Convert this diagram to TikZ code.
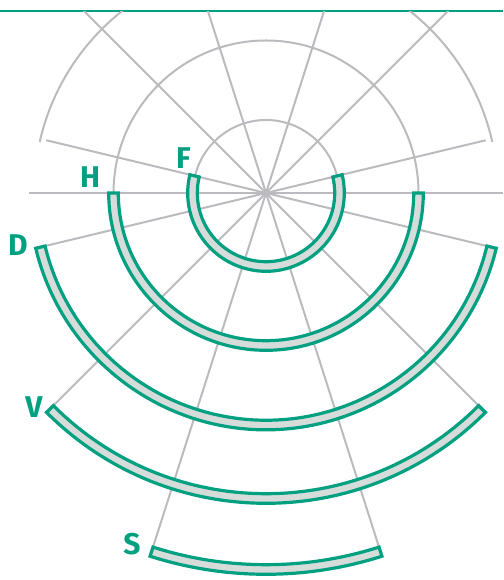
\documentclass[tikz,border=0pt]{standalone}
\usepackage{fontspec}
\setmainfont{Fira Sans}
\definecolor{grn}{RGB}{0,160,128}
\definecolor{lgray}{RGB}{187,187,191}
\definecolor{bandfill}{RGB}{213,220,218}
\begin{document}
\begin{tikzpicture}[x=1pt,y=1pt,
  ray/.style={draw=lgray, line width=2pt},
  garc/.style={draw=lgray, line width=2pt},
  band/.style={draw=grn, fill=bandfill, line width=3.2pt, line join=miter},
  lab/.style={text=grn, font=\fontsize{30}{30}\selectfont\bfseries, inner sep=0pt}]
\useasboundingbox (0,0) rectangle (503,580);
\coordinate (L0) at (0,569);
\coordinate (L1) at (503,569);
\draw[grn, line width=2pt] (L0) -- (L1);
\begin{scope}
\clip (0,0) rectangle (503,568);
\begin{scope}[shift={(266,387)}]
  \coordinate (C) at (0,0);
  % rays
  \draw[ray] (C) -- (0:237);
  \draw[ray] (C) -- (180:237);
  \draw[ray] (C) -- (13.5:226);
  \draw[ray] (C) -- (166.5:226);
  \draw[ray] (C) -- (193.5:226);
  \draw[ray] (C) -- (346.5:226);
  \draw[ray] (C) -- (45:270);
  \draw[ray] (C) -- (135:270);
  \draw[ray] (C) -- (225:300);
  \draw[ray] (C) -- (315:300);
  \draw[ray] (C) -- (72.3:210);
  \draw[ray] (C) -- (107.7:210);
  \draw[ray] (C) -- (252.3:371);
  \draw[ray] (C) -- (287.7:371);
  % grey arcs
  \draw[garc] (13.5:73) arc[start angle=13.5, end angle=166.5, radius=73];
  \draw[garc] (0:152.5) arc[start angle=0, end angle=180, radius=152.5];
  \draw[garc] (12.7:232) arc[start angle=12.7, end angle=167.3, radius=232];
\end{scope}
\end{scope}
\begin{scope}[shift={(266,387)}]
  % bands
  \draw[band] (166.5:78.3) arc[start angle=166.5, end angle=373.5, radius=78.3]
     -- (13.5:68.7) arc[start angle=373.5, end angle=166.5, radius=68.7] -- cycle;
  \draw[band] (180:157.3) arc[start angle=180, end angle=360, radius=157.3]
     -- (0:147.7) arc[start angle=360, end angle=180, radius=147.7] -- cycle;
  \draw[band] (193.5:236.8) arc[start angle=193.5, end angle=346.5, radius=236.8]
     -- (346.5:227.2) arc[start angle=346.5, end angle=193.5, radius=227.2] -- cycle;
  \draw[band] (225:310.3) arc[start angle=225, end angle=315, radius=310.3]
     -- (315:300.7) arc[start angle=315, end angle=225, radius=300.7] -- cycle;
  \draw[band] (252.3:381.3) arc[start angle=252.3, end angle=287.7, radius=381.3]
     -- (287.7:371.7) arc[start angle=287.7, end angle=252.3, radius=371.7] -- cycle;
\end{scope}
% labels
\node[lab] (F) at (183.5,422) {F};
\node[lab] (H) at (90,403) {H};
\node[lab] (D) at (18,334.5) {D};
\node[lab] (V) at (34,172.5) {V};
\node[lab] (S) at (132,36) {S};
\end{tikzpicture}
\end{document}
